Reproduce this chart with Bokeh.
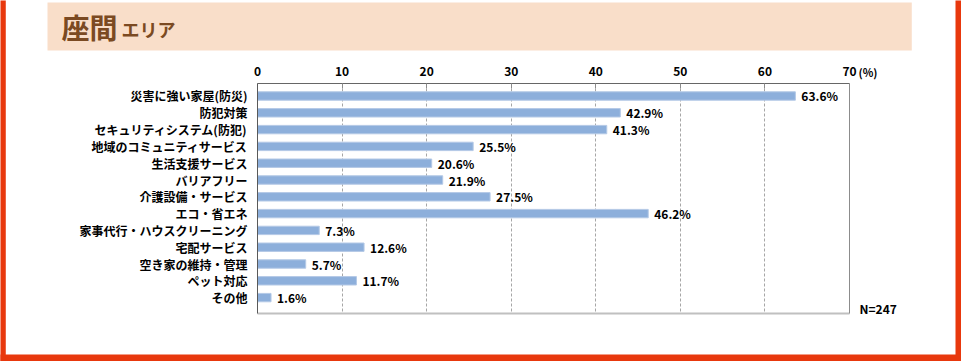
from bokeh.plotting import figure
from bokeh.models import Range1d, FixedTicker, LinearAxis, Label, ColumnDataSource, Grid
from bokeh.core.properties import value
from bokeh.embed import file_html
from bokeh.resources import INLINE

# ---- data ----
categories = [
    "災害に強い家屋(防災)",
    "防犯対策",
    "セキュリティシステム(防犯)",
    "地域のコミュニティサービス",
    "生活支援サービス",
    "バリアフリー",
    "介護設備・サービス",
    "エコ・省エネ",
    "家事代行・ハウスクリーニング",
    "宅配サービス",
    "空き家の維持・管理",
    "ペット対応",
    "その他",
]
values = [63.6, 42.9, 41.3, 25.5, 20.6, 21.9, 27.5, 46.2, 7.3, 12.6, 5.7, 11.7, 1.6]
x_ticks = [0, 10, 20, 30, 40, 50, 60, 70]
title_main = "座間"
title_sub = "エリア"
unit_label = "(%)"
n_label = "N=247"

FONT = "Noto Sans CJK JP"
W, H = 961, 361
FL, FR, FT, FB = 257, 849, 83, 313          # frame edges (px)
XMIN, XMAX = 0, 70
Y_TOP, Y_BOT = -0.744, len(categories) - 1 + 0.946
RED = "#E8380D"
BANNER = "#F9DEC9"
BROWN = "#7B4A22"


def px_x(px):
    return XMIN + (px - FL) * (XMAX - XMIN) / (FR - FL)


def px_y(py):
    return Y_TOP + (py - FT) * (Y_BOT - Y_TOP) / (FB - FT)


idx = list(range(len(categories)))
src = ColumnDataSource(dict(i=idx, v=values, lbl=[f"{v}%" for v in values]))

p = figure(
    width=W, height=H,
    x_range=Range1d(XMIN, XMAX),
    y_range=Range1d(Y_BOT, Y_TOP),
    output_backend="svg", toolbar_location=None,
    x_axis_location=None, y_axis_location=None,
    min_border_left=FL, min_border_right=W - FR,
    min_border_top=FT, min_border_bottom=H - FB,
)
p.outline_line_color = None
p.background_fill_color = "white"
p.border_fill_color = "white"
p.xgrid.visible = False
p.ygrid.visible = False

# vertical dashed grid
grid = Grid(dimension=0, ticker=FixedTicker(ticks=x_ticks[1:-1]),
            grid_line_color="#a6a6a6", grid_line_dash="3 2", grid_line_width=1)
p.add_layout(grid, "center")

# top axis
top = LinearAxis(ticker=FixedTicker(ticks=x_ticks))
top.axis_line_color = "#666666"
top.major_tick_line_color = "#8c8c8c"
top.major_tick_in = 5
top.major_tick_out = 0
top.minor_tick_line_color = None
top.major_label_standoff = 8
top.major_label_text_font = FONT
top.major_label_text_font_style = "bold"
top.major_label_text_font_size = "12px"
top.major_label_text_color = "#000000"
p.add_layout(top, "above")

# left category axis
left = LinearAxis(ticker=FixedTicker(ticks=idx),
                  major_label_overrides={i: c for i, c in zip(idx, categories)})
left.axis_line_color = "#595959"
left.major_tick_line_color = None
left.minor_tick_line_color = None
left.major_tick_out = 0
left.major_tick_in = 0
left.major_label_standoff = 10
left.major_label_text_font = FONT
left.major_label_text_font_style = "bold"
left.major_label_text_font_size = "12px"
left.major_label_text_color = "#000000"
p.add_layout(left, "left")

# right and bottom frame lines
def edge_axis(color, width):
    return LinearAxis(ticker=FixedTicker(ticks=[]), axis_line_color=color, axis_line_width=width,
                      major_tick_line_color=None, minor_tick_line_color=None,
                      major_tick_out=0, major_tick_in=0, major_label_standoff=0,
                      major_label_text_font_size="0px")

p.add_layout(edge_axis("#8c8c8c", 1), "right")
p.add_layout(edge_axis("#c0c0c0", 2), "below")

# bars
p.hbar(y="i", left=0, right="v", height=0.5, source=src,
       fill_color="#8DAFDB", line_color="#B4C9E6", line_width=1)

# value labels
p.text(x="v", y="i", text="lbl", source=src, x_offset=6,
       text_baseline="middle", text_align="left",
       text_font=value(FONT), text_font_style="bold",
       text_font_size="12px", text_color="#000000")


# ---- decorations (side-panel labels are drawn outside the plot frame) ----
def block(x0, y0, w, h, color):
    return Label(x=px_x(x0), y=px_y(y0), text=" ", text_font_size="1px",
                 text_align="left", text_baseline="top",
                 background_fill_color=color, background_fill_alpha=1,
                 border_line_color=None,
                 padding=dict(left=0, right=w, top=0, bottom=h))


p.add_layout(block(47, 2, 864, 47, BANNER), "above")      # title banner
p.add_layout(block(0, 0, 5, H, RED), "left")              # page border
p.add_layout(block(955, 0, 6, H, RED), "right")
p.add_layout(block(0, 354, W, 7, RED), "below")

p.add_layout(Label(x=px_x(61), y=px_y(26), text=title_main, level="overlay",
                   text_font=FONT, text_font_style="bold", text_font_size="28px",
                   text_color=BROWN, text_baseline="alphabetic", text_align="left"), "right")
p.add_layout(Label(x=px_x(121), y=px_y(28), text=title_sub, level="overlay",
                   text_font=FONT, text_font_style="bold", text_font_size="18px",
                   text_color=BROWN, text_baseline="alphabetic", text_align="left"), "left")
p.add_layout(Label(x=px_x(858), y=px_y(71), text=unit_label,
                   text_font=FONT, text_font_style="bold", text_font_size="11px",
                   text_color="#000000", text_baseline="middle", text_align="left"), "right")
p.add_layout(Label(x=px_x(859), y=px_y(308), text=n_label,
                   text_font=FONT, text_font_style="bold", text_font_size="12px",
                   text_color="#000000", text_baseline="middle", text_align="left"), "below")

open("out.html", "w").write(file_html(p, INLINE))
